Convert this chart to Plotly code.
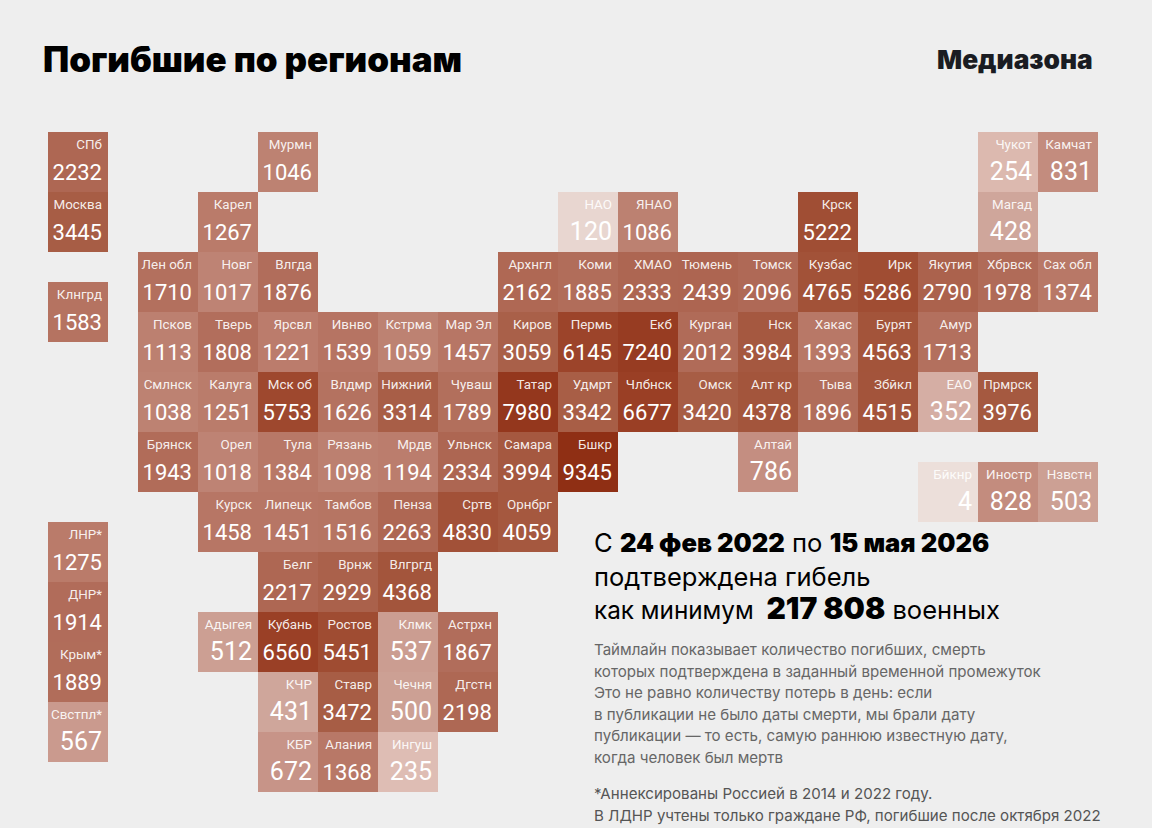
import plotly.graph_objects as go

# tile map: col / row are grid positions, .5 = shifted half a tile
names = ["СПб", "Мурмн", "Чукот", "Камчат",
         "Москва", "Карел", "НАО", "ЯНАО", "Крск", "Магад",
         "Лен обл", "Новг", "Влгда", "Архнгл", "Коми", "ХМАО", "Тюмень", "Томск", "Кузбас", "Ирк", "Якутия", "Хбрвск", "Сах обл",
         "Клнгрд",
         "Псков", "Тверь", "Ярсвл", "Ивнво", "Кстрма", "Мар Эл", "Киров", "Пермь", "Екб", "Курган", "Нск", "Хакас", "Бурят", "Амур",
         "Смлнск", "Калуга", "Мск об", "Влдмр", "Нижний", "Чуваш", "Татар", "Удмрт", "Члбнск", "Омск", "Алт кр", "Тыва", "Збйкл", "ЕАО", "Прмрск",
         "Брянск", "Орел", "Тула", "Рязань", "Мрдв", "Ульнск", "Самара", "Бшкр", "Алтай",
         "Бйкнр", "Иностр", "Нзвстн",
         "Курск", "Липецк", "Тамбов", "Пенза", "Сртв", "Орнбрг",
         "ЛНР*", "ДНР*", "Крым*", "Свстпл*",
         "Белг", "Врнж", "Влгргд",
         "Адыгея", "Кубань", "Ростов", "Клмк", "Астрхн",
         "КЧР", "Ставр", "Чечня", "Дгстн",
         "КБР", "Алания", "Ингуш"]
values = [2232, 1046, 254, 831,
          3445, 1267, 120, 1086, 5222, 428,
          1710, 1017, 1876, 2162, 1885, 2333, 2439, 2096, 4765, 5286, 2790, 1978, 1374,
          1583,
          1113, 1808, 1221, 1539, 1059, 1457, 3059, 6145, 7240, 2012, 3984, 1393, 4563, 1713,
          1038, 1251, 5753, 1626, 3314, 1789, 7980, 3342, 6677, 3420, 4378, 1896, 4515, 352, 3976,
          1943, 1018, 1384, 1098, 1194, 2334, 3994, 9345, 786,
          4, 828, 503,
          1458, 1451, 1516, 2263, 4830, 4059,
          1275, 1914, 1889, 567,
          2217, 2929, 4368,
          512, 6560, 5451, 537, 1867,
          431, 3472, 500, 2198,
          672, 1368, 235]
cols = [-0.5, 3, 15, 16,
        -0.5, 2, 8, 9, 12, 15,
        1, 2, 3, 7, 8, 9, 10, 11, 12, 13, 14, 15, 16,
        -0.5,
        1, 2, 3, 4, 5, 6, 7, 8, 9, 10, 11, 12, 13, 14,
        1, 2, 3, 4, 5, 6, 7, 8, 9, 10, 11, 12, 13, 14, 15,
        1, 2, 3, 4, 5, 6, 7, 8, 11,
        14, 15, 16,
        2, 3, 4, 5, 6, 7,
        -0.5, -0.5, -0.5, -0.5,
        3, 4, 5,
        2, 3, 4, 5, 6,
        3, 4, 5, 6,
        3, 4, 5]
rows = [0] * 4 + [1] * 6 + [2] * 13 + [2.5] + [3] * 14 + [4] * 15 + [5] * 9 + [5.5] * 3 + [6] * 6 \
    + [6.5, 7.5, 8.5, 9.5] + [7] * 3 + [8] * 5 + [9] * 4 + [10] * 3

# colour ramp (value -> colour)
ramp_values = [0, 120, 254, 428, 567, 831, 1046, 1267, 1710, 2232, 3445, 5222, 6560, 9345]
ramp_colors = ["#ecdfda", "#e8d6d0", "#dcb9af", "#cfa69b", "#ca9a8e", "#c38c7e", "#bd8272",
               "#ba7b6a", "#b3705e", "#ae6753", "#a75d45", "#a04e34", "#9a4026", "#8f2f14"]
colorscale = [[v / ramp_values[-1], c] for v, c in zip(ramp_values, ramp_colors)]

W, H = 1152, 828


def px(x, y):
    return x / W, 1 - y / H


fig = go.Figure()
fig.add_trace(go.Scatter(
    x=cols, y=rows, mode="markers", hoverinfo="skip",
    marker=dict(symbol="square", size=60, color=values, colorscale=colorscale,
                cmin=0, cmax=ramp_values[-1], line=dict(width=0)),
))
fig.add_trace(go.Scatter(
    x=[c + 0.4 for c in cols], y=[r - 0.267 for r in rows], mode="text",
    text=names, textposition="middle left", hoverinfo="skip",
    textfont=dict(family="Roboto", size=13.4, color="rgba(255,255,255,0.9)"),
))
# numbers under 1000 are set larger in the original
fig.add_trace(go.Scatter(
    x=[c + 0.4 for c in cols], y=[r + 0.2 for r in rows], mode="text",
    text=[str(v) for v in values], textposition="middle left", hoverinfo="skip",
    textfont=dict(family="Roboto", size=[22 if v >= 1000 else 25 for v in values], color="white"),
))


def note(x, y, text, size, color, family="Inter", weight=None, anchor="left"):
    ax, ay = px(x, y)
    fig.add_annotation(x=ax, y=ay, xref="paper", yref="paper", text=text, showarrow=False,
                       xanchor=anchor, yanchor="middle", align=anchor,
                       font=dict(family=family, size=size, color=color, weight=weight))


heavy = '<span style="font-weight:900">%s</span>'
heavy_big = '<span style="font-weight:900;font-size:30px">%s</span>'
thin = '<span style="font-size:24.3px">%s</span>'

note(41, 59, "Погибшие по регионам", 34.9, "#000000", weight=900)
note(1095, 60, "Медиазона", 26.3, "#1a1c22", weight=900, anchor="right")

note(592, 542, "С " + heavy % "24 фев 2022" + " по " + heavy % "15 мая 2026", 25.6, "#000000")
note(592, 576, "подтверждена гибель", 25.5, "#000000")
note(592, 608, thin % "как минимум" + "\u2002" + heavy_big % "217 808" + " военных", 25.5, "#000000")

body_lines = ["Таймлайн показывает количество погибших, смерть",
              "которых подтверждена в заданный временной промежуток",
              "Это не равно количеству потерь в день: если",
              "в публикации не было даты смерти, мы брали дату",
              "публикации — то есть, самую раннюю известную дату,",
              "когда человек был мертв"]
body_y = [649, 671, 692, 714, 735, 757]
for line, y in zip(body_lines, body_y):
    note(592, y, line, 15.1, "#666666")

note(592, 793, "*Аннексированы Россией в 2014 и 2022 году.", 15.1, "#555555")
note(592, 815, "В ЛДНР учтены только граждане РФ, погибшие после октября 2022", 15.1, "#555555")

fig.update_layout(
    width=W, height=H, margin=dict(l=0, r=0, t=0, b=0),
    paper_bgcolor="#eeeeee", plot_bgcolor="#eeeeee", showlegend=False,
    xaxis=dict(range=[-1.8, 17.4], visible=False, fixedrange=True),
    yaxis=dict(range=[11.1, -2.7], visible=False, fixedrange=True),
)
fig.write_html("out.html", config={"displayModeBar": False},
               post_script="document.body.style.margin='0';")
